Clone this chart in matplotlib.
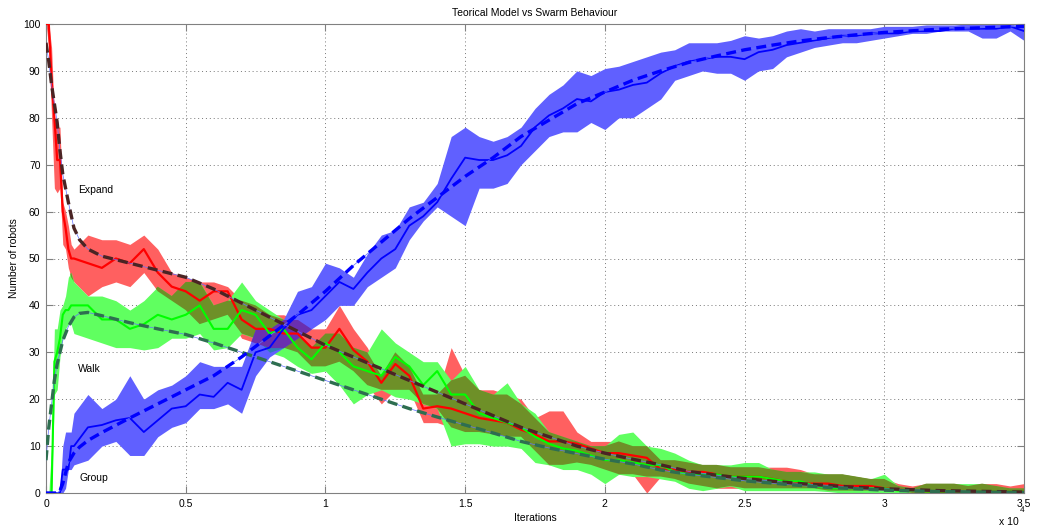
import numpy as np
import matplotlib
matplotlib.use("Agg")
import matplotlib.pyplot as plt

plt.rcParams['font.family'] = ['Liberation Sans', 'DejaVu Sans']

# simulation samples (iterations, x 10^4)
x_sim = [0, 0.01, 0.02, 0.03, 0.04, 0.05, 0.06, 0.07, 0.08, 0.09,
         0.10, 0.15, 0.20, 0.25, 0.30, 0.35, 0.40, 0.45,
         0.50, 0.55, 0.60, 0.65, 0.70, 0.75, 0.80, 0.85, 0.90, 0.95,
         1.00, 1.05, 1.10, 1.15, 1.20, 1.25, 1.30, 1.35, 1.40, 1.45,
         1.50, 1.55, 1.60, 1.65, 1.70, 1.75, 1.80, 1.85, 1.90, 1.95,
         2.00, 2.05, 2.10, 2.15, 2.20, 2.25, 2.30, 2.35, 2.40, 2.45,
         2.50, 2.55, 2.60, 2.65, 2.70, 2.75, 2.80, 2.85, 2.90, 2.95,
         3.00, 3.05, 3.10, 3.15, 3.20, 3.25, 3.30, 3.35, 3.40, 3.45, 3.50]

expand_mean = [100, 100, 88, 80, 71, 71, 60, 56.5, 52, 50,
               50, 49, 48, 50, 49, 52, 47, 44,
               43, 41, 43, 43, 37, 35, 35, 34, 34, 31,
               31, 35, 30.5, 28, 23.5, 27.5, 25, 18, 18.5, 18,
               17, 16, 15.5, 15, 13.5, 12.5, 11, 11, 10.5, 9.5,
               8.5, 8.5, 8, 7.5, 5, 5, 4.5, 4.5, 4, 3.5,
               3.5, 3.5, 3, 2.5, 2, 2, 2, 1.5, 1.5, 1.5,
               1, 0.7, 0.5, 0.3, 0.3, 0.3, 0.3, 0.3, 0.3, 0.3, 0.3]
expand_hi = [100, 100, 95, 80, 78, 78, 62, 60, 57, 53,
             52, 55, 54, 54, 53, 55, 52, 47,
             46, 45, 45, 44, 41, 40, 38, 38, 37, 35,
             35, 40, 35, 31, 25, 30, 27, 21, 21, 31,
             25, 22, 22, 21, 20, 16, 17.5, 17.5, 13, 11,
             11, 11, 10, 10, 7, 7, 6.5, 6, 6, 5.5,
             5.5, 5.5, 5.5, 5.5, 5, 4, 4, 4, 3.5, 3,
             3, 2, 1.5, 2, 2, 2, 1.5, 2, 2, 1.5, 2]
expand_lo = [100, 95, 80, 65, 64, 65, 53, 52, 48, 46,
             45, 42, 44, 45, 44, 47, 43, 41,
             39, 36, 37, 38, 33, 32, 31, 31, 30, 27,
             27, 28, 26, 23, 19, 22, 22, 15, 15, 14,
             13, 13, 12.5, 12, 12, 9, 6, 6, 6.5, 6,
             5, 4, 4, 0, 3.5, 3, 2, 1.5, 1, 1,
             1, 1, 1, 1, 1, 1, 0.5, 0.5, 0.5, 0.5,
             0.5, 0.5, 0, 0, 0, 0, 0, 0, 0, 0, 0]

walk_mean = [0, 0, 0, 28, 30, 33, 38, 39, 39, 40,
             40, 40, 37, 37, 35, 36, 38, 37,
             38, 40, 35, 35, 39, 38, 34, 35, 31, 28.5,
             32, 30, 27, 26, 25, 29, 27, 23, 26, 21,
             21, 17, 16, 15, 14, 12, 10.5, 9.5, 9, 8,
             7, 7, 6.5, 6, 6, 4.5, 4, 4, 4, 3.5,
             3.5, 3.5, 3, 2.5, 2.5, 1.5, 1, 1, 1, 1,
             1, 0.5, 0.5, 0.3, 0.3, 0.3, 0.3, 0.3, 0.3, 0.3, 0.3]
walk_hi = [0, 0, 10, 35, 35, 39, 40, 42, 46, 47,
           45, 42, 42, 41, 39, 41, 44, 42,
           45, 45, 40, 41, 45, 41, 39, 37, 34, 31,
           34, 34, 31, 30, 35, 32, 30, 28, 28, 24,
           27, 22, 21, 23.5, 19, 17, 13, 12, 11, 10,
           10, 12.5, 13, 10, 9.5, 8.5, 7, 6, 6, 6,
           6.5, 6.5, 5, 4.5, 4.5, 4.5, 4, 4, 3.5, 3,
           4, 1.5, 1, 2, 2, 2, 2, 2, 1.5, 1, 1]
walk_lo = [0, 0, 0, 21, 22, 29, 33, 35, 36, 36,
           34, 33, 32, 31, 31, 30.5, 31, 33,
           33, 34, 30.5, 31, 34, 33, 30, 29, 27, 25.5,
           26, 23, 19, 21, 22, 20.5, 20, 19, 18, 10,
           10.5, 10.5, 10, 10, 9.5, 6.5, 6, 5, 5, 4,
           2, 4, 3.5, 3.5, 3, 2.5, 1, 0.5, 1, 1.5,
           0.5, 0.5, 0.5, 0.5, 0.5, 0.5, 0.3, 0, 0, 0,
           0, 0, 0, 0, 0, 0, 0, 0, 0, 0, 0]

group_mean = [0, 0, 0, 0, 0, 0, 5, 5, 5, 10,
              10, 14, 14.5, 15.5, 16, 13, 15.5, 18,
              18.5, 21, 20.5, 23.5, 22, 30, 31, 35, 38, 39,
              42, 45, 43.5, 47, 50, 52, 57, 59, 62, 67,
              71.5, 71, 71, 72, 74, 78, 80.5, 82, 84, 83.5,
              85.5, 86, 87, 87.5, 89.5, 91, 92, 92.5, 93, 93,
              92.5, 94, 94.5, 95.5, 96, 96.5, 97, 97.5, 97.5, 98,
              98, 98, 98.5, 98.5, 98.5, 99, 99, 99, 99, 99.5, 98.5]
group_hi = [0, 0, 0, 0, 0, 0, 10, 13, 13, 13,
            17, 21, 18, 20, 25, 20, 22, 23,
            25, 28, 27, 27, 27, 35, 35, 37, 43, 44,
            49, 48, 46, 51, 55, 56, 61, 62, 66, 76,
            78, 76, 75, 76, 78, 82, 85, 87, 90, 89,
            90.5, 91, 92, 93, 94, 94.5, 96, 96, 96, 96.5,
            97.5, 97, 97.5, 98.5, 99, 98.5, 99, 99, 99, 99,
            99.5, 99.5, 99.5, 99.8, 99.8, 99.8, 100, 100, 100, 100, 99.5]
group_lo = [0, 0, 0, 0, 0, 0, 0, 1, 5, 5,
            6, 7, 10, 11, 8, 8, 12, 14,
            15, 18, 18, 19, 17, 25, 29, 31, 33, 35,
            37, 40, 40, 44, 46, 48, 54, 58, 61, 59,
            57, 65, 65, 66, 70, 73, 76, 77, 77, 79,
            77.5, 80, 80, 82, 84, 88, 89, 90, 89.5, 89.5,
            88, 90, 90.5, 93, 94, 95, 95.5, 96, 96, 96.5,
            97, 97.5, 98, 98, 98.5, 98.5, 98.5, 97, 97, 98.5, 96.5]

# theoretical model
x_model = [0, 0.01, 0.02, 0.03, 0.04, 0.05, 0.06, 0.08, 0.10, 0.12, 0.15, 0.2, 0.3, 0.4,
           0.5, 0.6, 0.7, 0.8, 0.9, 1.0, 1.1, 1.2, 1.3, 1.4, 1.5, 1.6, 1.7, 1.8, 1.9,
           2.0, 2.1, 2.2, 2.3, 2.4, 2.5, 2.6, 2.7, 2.8, 2.9, 3.0, 3.2, 3.4, 3.5]
expand_model = [96, 92, 87, 83, 79, 73, 68, 62, 56.5, 54, 52, 50.5, 49, 47.5,
                46, 43.5, 40.5, 37.5, 34.5, 31.5, 29, 26.5, 24, 21.5, 19, 16.5, 14, 12, 10,
                8.5, 7.2, 6, 4.6, 3.8, 3.1, 2.5, 2.0, 1.6, 1.2, 0.9, 0.5, 0.3, 0.2]
walk_model = [7, 14, 19, 24, 27.5, 30, 32.5, 35.5, 37.5, 38.3, 38.5, 37.8, 36.3, 35,
              33.8, 32, 30, 28, 26, 24, 22, 20, 18, 16.2, 14.5, 12.8, 11, 9.6, 8.4,
              7.2, 6.2, 4.9, 4.0, 3.3, 2.6, 2.1, 1.6, 1.2, 0.9, 0.6, 0.3, 0.15, 0.1]
group_model = [0, 0, 0, 0, 0, 0.5, 2, 6.5, 8.5, 9.8, 11.2, 12.9, 16, 19,
               22, 25, 29, 33.5, 38, 43, 48.5, 53.5, 58.5, 63, 67.5, 71.5, 76, 79.5, 83,
               85.5, 88, 90, 91.8, 93.2, 94.5, 95.5, 96.4, 97.1, 97.7, 98.2, 98.9, 99.3, 99.5]

x = np.array(x_sim)
e_lo, e_hi = np.array(expand_lo), np.array(expand_hi)
w_lo, w_hi = np.array(walk_lo), np.array(walk_hi)
g_lo, g_hi = np.array(group_lo), np.array(group_hi)

fig = plt.figure(figsize=(10.37, 5.29), dpi=100)
ax = fig.add_axes([46/1037, 36/529, 978/1037, 469/529])

# bands
ax.fill_between(x, e_lo, e_hi, color='#ff6060', lw=0, zorder=2)
ax.fill_between(x, w_lo, w_hi, color='#60ff60', lw=0, zorder=2)
ax.fill_between(x, g_lo, g_hi, color='#6060ff', lw=0, zorder=2)

# overlapping parts of the bands
def overlap(a_lo, a_hi, b_lo, b_hi, c):
    lo = np.maximum(a_lo, b_lo)
    hi = np.minimum(a_hi, b_hi)
    ax.fill_between(x, lo, hi, where=hi > lo, interpolate=True, color=c, lw=0, zorder=3)

overlap(e_lo, e_hi, w_lo, w_hi, '#6e9028')
overlap(w_lo, w_hi, g_lo, g_hi, '#2f7db5')
overlap(e_lo, e_hi, g_lo, g_hi, '#6a2fb0')

# simulation means
ax.plot(x, expand_mean, color='#ff0000', lw=1.6, zorder=4)
ax.plot(x, walk_mean, color='#00ff00', lw=1.5, zorder=4)
ax.plot(x, group_mean, color='#0000ff', lw=1.3, zorder=4)

# model curves
for ym, c in [(expand_model, '#4a2424'), (walk_model, '#2e6e50'), (group_model, '#0000ff')]:
    ax.plot(x_model, ym, color='#6070ff', lw=0.5, zorder=5)
    ax.plot(x_model, ym, color=c, lw=2.4, dashes=(3, 1.6), zorder=6)

ax.text(0.115, 64.5, 'Expand', fontsize=7.5, va='center')
ax.text(0.115, 26.5, 'Walk', fontsize=7.5, va='center')
ax.text(0.12, 3.3, 'Group', fontsize=7.5, va='center')

ax.set_xlim(0, 3.5)
ax.set_ylim(0, 100)
ax.set_xticks([0, 0.5, 1, 1.5, 2, 2.5, 3, 3.5])
ax.set_xticklabels(['0', '0.5', '1', '1.5', '2', '2.5', '3', '3.5'])
ax.set_yticks(range(0, 101, 10))
ax.tick_params(direction='in', length=5, width=0.8, color='#808080', labelsize=7.5,
               top=True, right=True, pad=4)
ax.grid(True, linestyle=(0, (1, 3)), color='#777777', lw=0.7, zorder=1)
ax.set_axisbelow(True)
for s in ax.spines.values():
    s.set_color('#808080')
    s.set_linewidth(0.8)

ax.set_title('Teorical Model vs Swarm Behaviour', fontsize=7.5, pad=6)
ax.set_xlabel('Iterations', fontsize=7.5, labelpad=3)
ax.set_ylabel('Number of robots', fontsize=7.5, labelpad=3)
fig.text(999/1037, 1 - 522/529, 'x 10', fontsize=7.5, va='center')
fig.text(1020/1037, 1 - 511/529, '4', fontsize=6, va='center')

fig.savefig('out.png', dpi=100)
